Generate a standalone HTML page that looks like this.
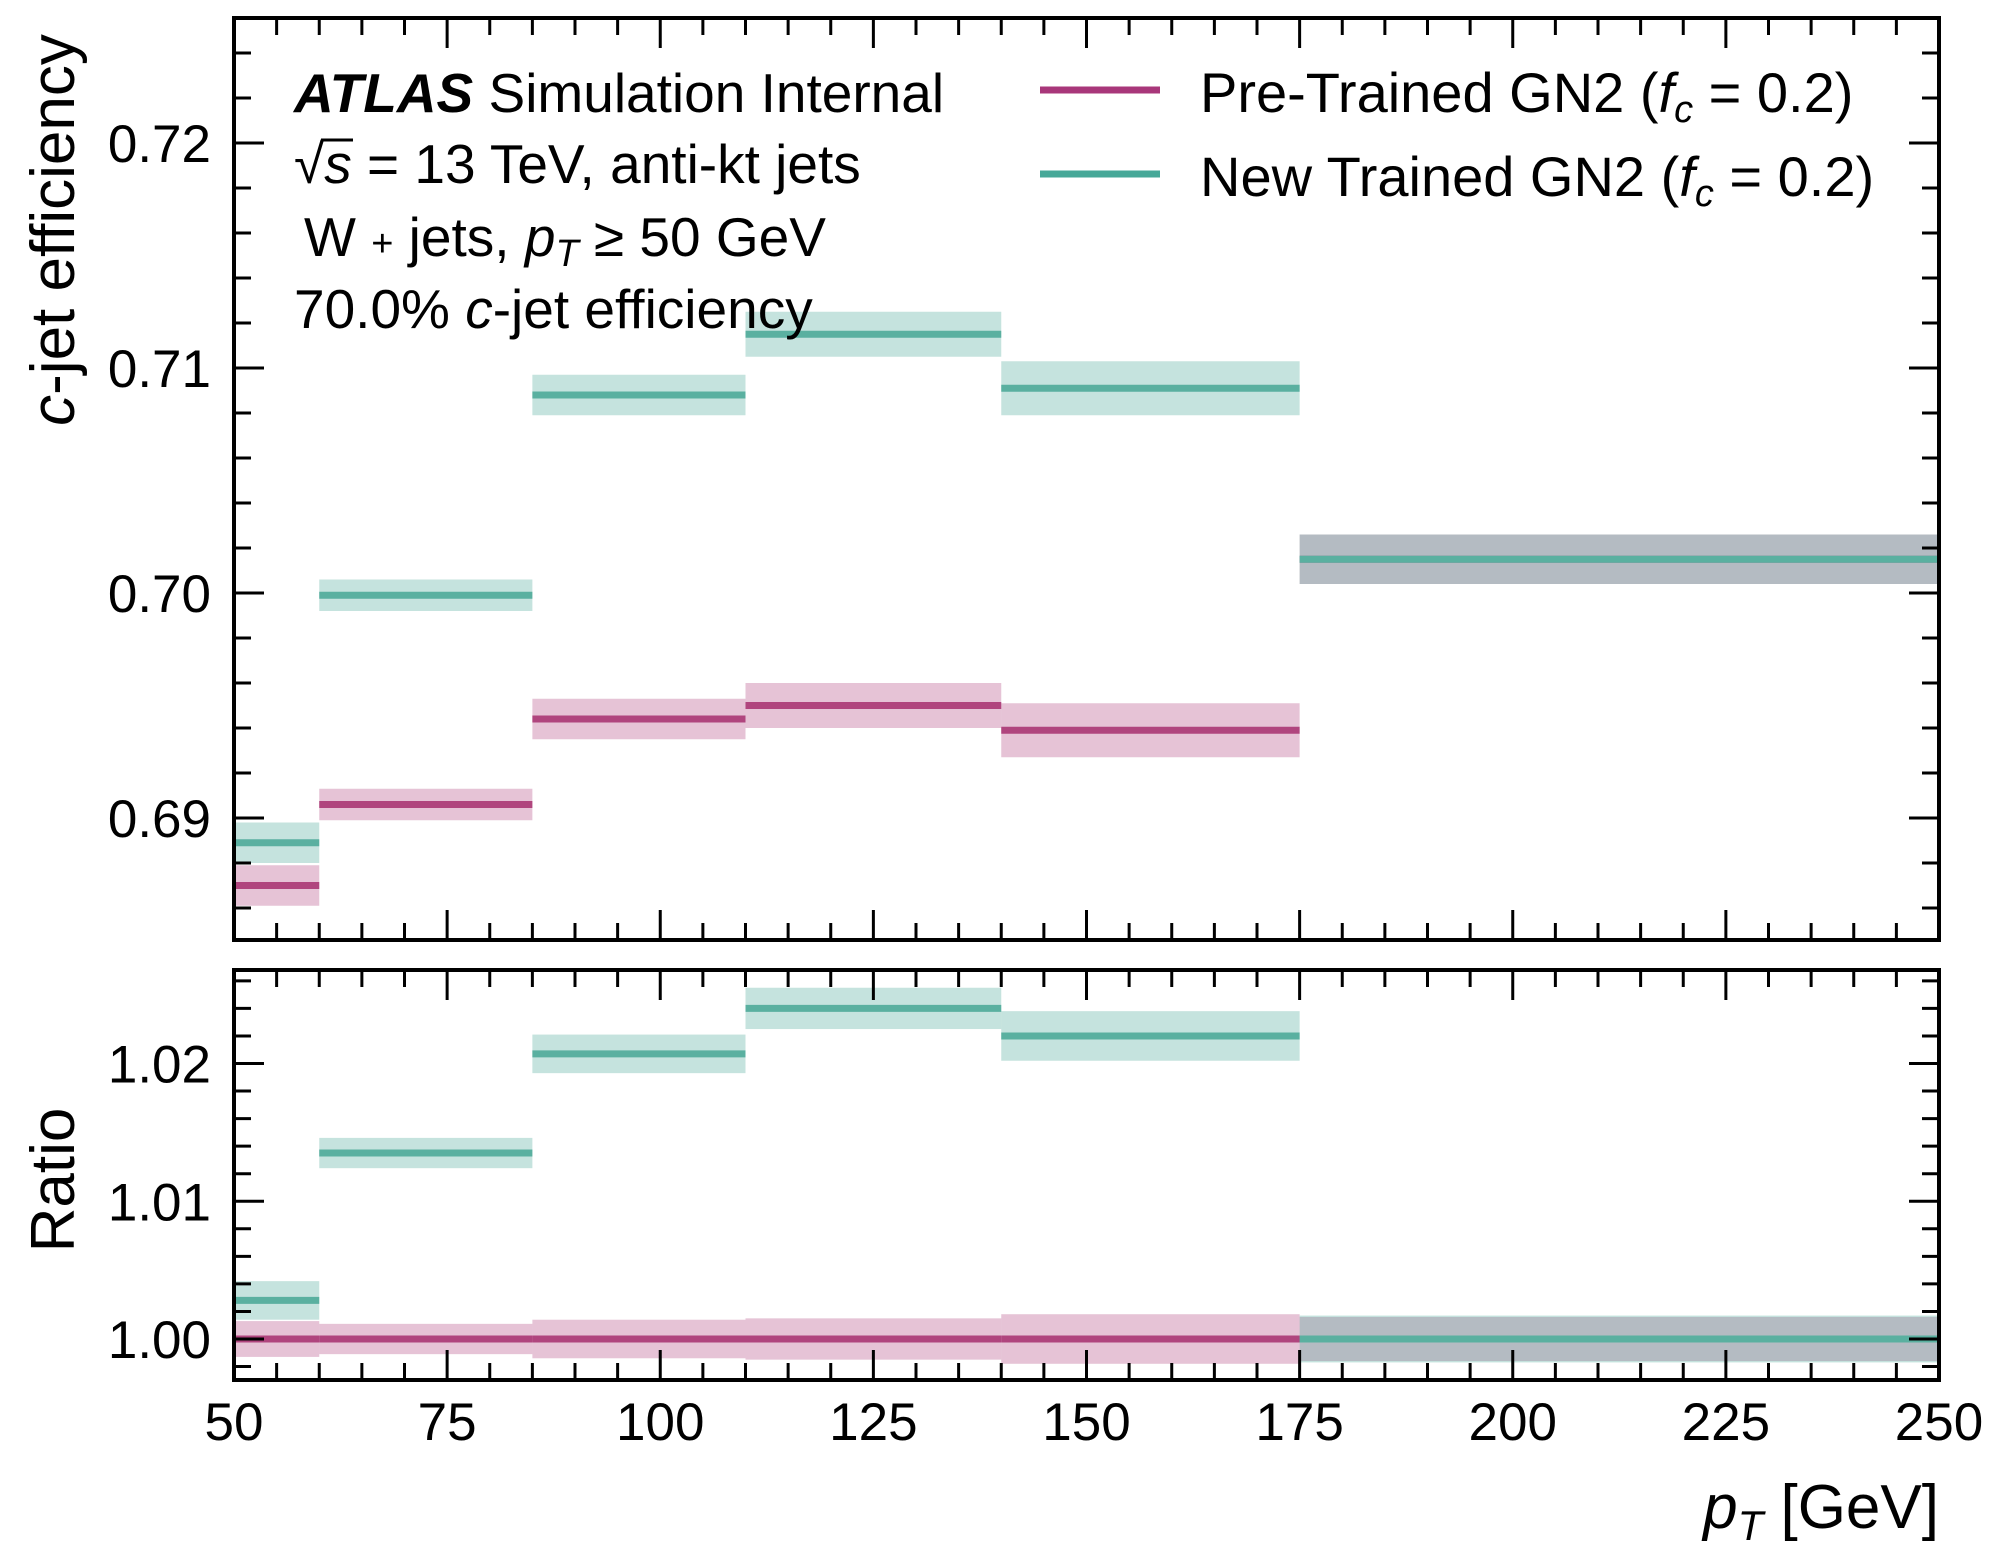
<!DOCTYPE html>
<html><head><meta charset="utf-8"><style>
html,body{margin:0;padding:0;background:#fff;}
svg{display:block;font-family:"Liberation Sans",sans-serif;}
</style></head><body>
<svg id="chart" width="2000" height="1560" viewBox="0 0 2000 1560" xmlns="http://www.w3.org/2000/svg">
<g id="marks"></g>
<g id="axes"></g>
<g font-size="55" fill="#000">
<text x="294" y="112"><tspan font-weight="bold" font-style="italic">ATLAS</tspan> Simulation Internal</text>
<text x="294" y="183">√<tspan font-style="italic">s</tspan> = 13 TeV, anti-kt jets</text>
<text x="304" y="256">W <tspan font-size="38">+</tspan> jets, <tspan font-style="italic">p</tspan><tspan font-style="italic" font-size="38" dy="10">T</tspan><tspan dy="-10"> ≥ 50 GeV</tspan></text>
<text x="294" y="328">70.0% <tspan font-style="italic">c</tspan>-jet efficiency</text>
</g>
<line x1="321" y1="140" x2="353" y2="140" stroke="#000" stroke-width="3"/>
<g font-size="56">
<line x1="1040" y1="90" x2="1160" y2="90" stroke="#a8377a" stroke-width="7"/>
<text x="1200" y="112">Pre-Trained GN2 (<tspan font-style="italic">f</tspan><tspan font-style="italic" font-size="38" dy="10">c</tspan><tspan dy="-10"> = 0.2)</tspan></text>
<line x1="1040" y1="174" x2="1160" y2="174" stroke="#46a898" stroke-width="7"/>
<text x="1200" y="196">New Trained GN2 (<tspan font-style="italic">f</tspan><tspan font-style="italic" font-size="38" dy="10">c</tspan><tspan dy="-10"> = 0.2)</tspan></text>
</g>
<text transform="translate(74,230) rotate(-90)" text-anchor="middle" font-size="62"><tspan font-style="italic">c</tspan>-jet efficiency</text>
<text transform="translate(74,1180) rotate(-90)" text-anchor="middle" font-size="62">Ratio</text>
<text x="1939" y="1528" text-anchor="end" font-size="62"><tspan font-style="italic">p</tspan><tspan font-style="italic" font-size="42" dy="12">T</tspan><tspan dy="-12"> [GeV]</tspan></text>
</svg>
<script>
const binEdges = [50, 60, 85, 110, 140, 175, 250];
const pretrainedEff = [0.6870, 0.6906, 0.6944, 0.6950, 0.6939, 0.7015];
const pretrainedErr = [0.0009, 0.0007, 0.0009, 0.0010, 0.0012, 0.0011];
const newtrainedEff = [0.6889, 0.6999, 0.7088, 0.7115, 0.7091, 0.7015];
const newtrainedErr = [0.0009, 0.0007, 0.0009, 0.0010, 0.0012, 0.0011];
const pretrainedRatio = [1.0000, 1.0000, 1.0000, 1.0000, 1.0000, 1.0000];
const pretrainedRatioErr = [0.0013, 0.0011, 0.0014, 0.0015, 0.0018, 0.0016];
const newtrainedRatio = [1.0028, 1.0135, 1.0207, 1.0240, 1.0220, 1.0000];
const newtrainedRatioErr = [0.0014, 0.0011, 0.0014, 0.0015, 0.0018, 0.0017];
const xTicks = [50, 75, 100, 125, 150, 175, 200, 225, 250];
const yTopTicks = [0.69, 0.70, 0.71, 0.72];
const yBotTicks = [1.00, 1.01, 1.02];

const NS = "http://www.w3.org/2000/svg";
const L = 234, R = 1939;
const topPanel = {t: 18, b: 940, v0: 0.69, p0: 818, per: 22500};
const botPanel = {t: 970, b: 1380, v0: 1.00, p0: 1339, per: 13775};
function xs(v){ return L + (v - 50) / 200 * (R - L); }
function ys(p, v){ return p.p0 - (v - p.v0) * p.per; }
const marks = document.getElementById('marks');
const axes = document.getElementById('axes');
function mk(tag, attrs, parent){
  const e = document.createElementNS(NS, tag);
  for (const k in attrs) e.setAttribute(k, attrs[k]);
  parent.appendChild(e);
  return e;
}
function series(p, vals, errs, bandCol, lineCol, name){
  for (let i = 0; i < vals.length; i++){
    const x0 = xs(binEdges[i]), x1 = xs(binEdges[i+1]);
    const b = mk('rect', {x: x0, y: ys(p, vals[i] + errs[i]), width: x1 - x0, height: ys(p, vals[i] - errs[i]) - ys(p, vals[i] + errs[i]), fill: bandCol}, marks);
    
    
    const l = mk('line', {x1: x0, x2: x1, y1: ys(p, vals[i]), y2: ys(p, vals[i]), stroke: lineCol, 'stroke-width': 7}, marks);
    
    
  }
}
const pinkBand = 'rgba(176,69,126,0.32)', pinkLine = '#b0457e';
const greenBand = 'rgba(80,170,155,0.33)', greenLine = '#5ab0a0';
series(topPanel, pretrainedEff, pretrainedErr, pinkBand, pinkLine, 'pretrained-eff');
series(topPanel, newtrainedEff, newtrainedErr, greenBand, greenLine, 'newtrained-eff');
series(botPanel, pretrainedRatio, pretrainedRatioErr, pinkBand, pinkLine, 'pretrained-ratio');
series(botPanel, newtrainedRatio, newtrainedRatioErr, greenBand, greenLine, 'newtrained-ratio');

function panel(p, yTicks, name, showX){
  const fr = mk('rect', {x: L, y: p.t, width: R - L, height: p.b - p.t, fill: 'none', stroke: '#000', 'stroke-width': 4}, axes);
  
  
  for (let v = 50; v <= 250; v += 5){
    const maj = (v % 25 === 0), len = maj ? 30 : 17, x = xs(v);
    mk('line', {x1: x, x2: x, y1: p.b, y2: p.b - len, stroke: '#000', 'stroke-width': 3}, axes);
    mk('line', {x1: x, x2: x, y1: p.t, y2: p.t + len, stroke: '#000', 'stroke-width': 3}, axes);
  }
  const vmin = p.v0 + (p.p0 - p.b) / p.per, vmax = p.v0 + (p.p0 - p.t) / p.per;
  for (let k = Math.ceil(vmin / 0.002); k * 0.002 <= vmax; k++){
    const v = k * 0.002, y = ys(p, v);
    const maj = Math.abs(v * 100 - Math.round(v * 100)) < 1e-6, len = maj ? 30 : 17;
    mk('line', {x1: L, x2: L + len, y1: y, y2: y, stroke: '#000', 'stroke-width': 3}, axes);
    mk('line', {x1: R, x2: R - len, y1: y, y2: y, stroke: '#000', 'stroke-width': 3}, axes);
  }
  yTicks.forEach(v => {
    const t = mk('text', {x: 211, y: ys(p, v) + 19, 'text-anchor': 'end', 'font-size': 53}, axes);
    t.textContent = v.toFixed(2);
    
    
  });
  if (showX){
    xTicks.forEach(v => {
      const t = mk('text', {x: xs(v), y: 1440, 'text-anchor': 'middle', 'font-size': 53}, axes);
      t.textContent = v;
      
      
    });
  }
}
panel(topPanel, yTopTicks, 'efficiency-panel', false);
panel(botPanel, yBotTicks, 'ratio-panel', true);
</script>
</body></html>
